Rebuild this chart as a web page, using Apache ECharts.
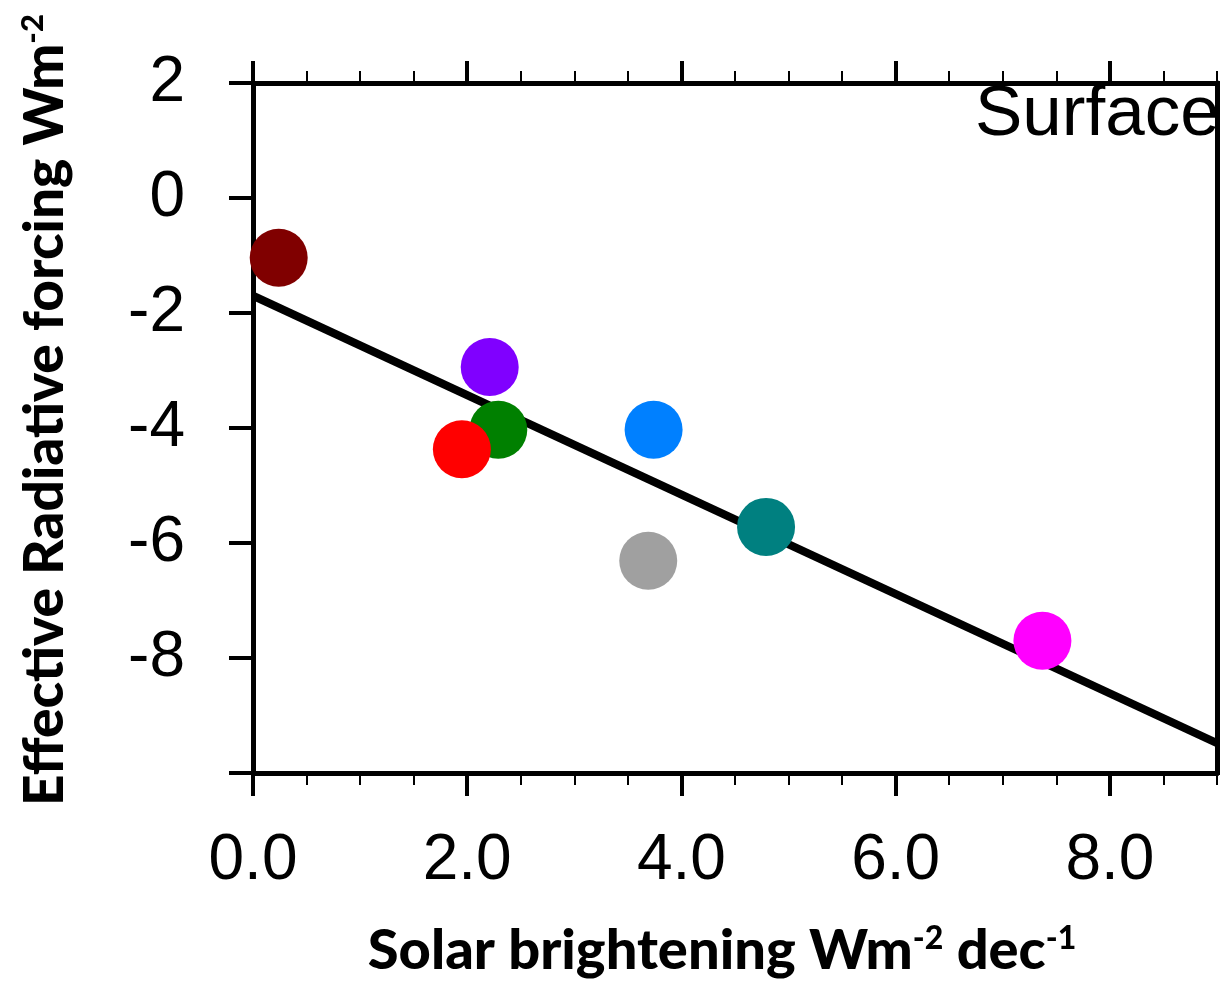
<!DOCTYPE html>
<html>
<head>
<meta charset="utf-8">
<script src="https://cdn.jsdelivr.net/npm/echarts@6/dist/echarts.min.js"></script>
<style>
html,body{margin:0;padding:0;background:#fff;}
#chart{width:1220px;height:981px;}
</style>
</head>
<body>
<div id="chart"></div>
<script>
// ---- data ----
const pointX = [0.24, 2.21, 2.29, 1.95, 3.74, 3.69, 4.79, 7.37];
const pointY = [-1.04, -2.94, -4.03, -4.37, -4.03, -6.31, -5.72, -7.70];
const pointColors = ['#800000', '#8000ff', '#008000', '#ff0000', '#0080ff', '#a0a0a0', '#008080', '#ff00ff'];
const fitX = [0, 9];
const fitY = [-1.70, -9.48];
const xMajorTicks = [0, 2, 4, 6, 8];
const xMinorTicks = [0, 0.5, 1, 1.5, 2, 2.5, 3, 3.5, 4, 4.5, 5, 5.5, 6, 6.5, 7, 7.5, 8, 8.5, 9];
const yTicks = [2, 0, -2, -4, -6, -8, -10];
const yLabels = [2, 0, -2, -4, -6, -8];
const panelLabel = 'Surface';

const chart = echarts.init(document.getElementById('chart'), null, {renderer: 'canvas'});
const black = '#000';
const tickFont = 'Liberation Sans, Arial, Helvetica, sans-serif';
const titleFont = 'Lato, Inter, sans-serif';

function xAxisDef(position, values, len, width, showLine, labels) {
  return {
    type: 'value', position: position, min: 0, max: 9,
    axisLine: {show: showLine, onZero: false, lineStyle: {color: black, width: 5}},
    axisTick: {show: true, customValues: values, length: len, lineStyle: {color: black, width: width}},
    axisLabel: labels ? {
      show: true, customValues: xMajorTicks, margin: 56,
      formatter: v => v.toFixed(1),
      fontSize: 64, fontFamily: tickFont, color: black
    } : {show: false},
    splitLine: {show: false}
  };
}
function yAxisDef(position, showLabels) {
  return {
    type: 'value', position: position, min: -10, max: 2, interval: 2,
    axisLine: {show: true, onZero: false, lineStyle: {color: black, width: 5}},
    axisTick: {show: true, customValues: yTicks, length: 24, lineStyle: {color: black, width: 4}},
    axisLabel: showLabels ? {
      show: true, customValues: yLabels, margin: 68,
      fontSize: 64, fontFamily: tickFont, color: black
    } : {show: false},
    splitLine: {show: false}
  };
}

const scatterData = pointX.map((x, i) => ({value: [x, pointY[i]], itemStyle: {color: pointColors[i], opacity: 1}}));
const fitData = fitX.map((x, i) => [x, fitY[i]]);

chart.setOption({
  animation: false,
  backgroundColor: '#fff',
  grid: {left: 253, right: 3, top: 83, bottom: 208, containLabel: false},
  xAxis: [
    xAxisDef('bottom', xMajorTicks, 23, 4, true, true),
    xAxisDef('bottom', xMinorTicks, 12, 2, false, false),
    xAxisDef('top', xMajorTicks, 22, 4, true, false),
    xAxisDef('top', xMinorTicks, 12, 2, false, false)
  ],
  yAxis: [
    yAxisDef('left', true),
    yAxisDef('right', false)
  ],
  series: [
    {
      type: 'line', data: fitData, xAxisIndex: 0, yAxisIndex: 0,
      showSymbol: false, symbol: 'none', z: 2,
      lineStyle: {color: black, width: 8}
    },
    {
      type: 'scatter', data: scatterData, xAxisIndex: 0, yAxisIndex: 0,
      symbol: 'circle', symbolSize: 58, z: 3,
      itemStyle: {opacity: 1}
    }
  ],
  graphic: [
    {
      type: 'text', left: 975, top: 80, z: 10,
      style: {text: panelLabel, fontSize: 71, fontFamily: tickFont, fill: black}
    },
    {
      type: 'text', x: 722, y: 951, z: 10,
      style: {
        text: '{m|Solar brightening Wm}{s|-2}{m| dec}{s|-1}',
        align: 'center', verticalAlign: 'middle',
        rich: {
          m: {fontSize: 56, fontWeight: 900, fontFamily: titleFont, fill: black},
          s: {fontSize: 32, fontWeight: 900, fontFamily: titleFont, fill: black, verticalAlign: 'top'}
        }
      }
    },
    {
      type: 'text', x: 45, y: 410, rotation: Math.PI / 2, z: 10,
      style: {
        text: '{m|Effective Radiative forcing Wm}{s|-2}',
        align: 'center', verticalAlign: 'middle',
        rich: {
          m: {fontSize: 55, fontWeight: 900, fontFamily: titleFont, fill: black},
          s: {fontSize: 31, fontWeight: 900, fontFamily: titleFont, fill: black, verticalAlign: 'top'}
        }
      }
    }
  ]
});
</script>
</body>
</html>
